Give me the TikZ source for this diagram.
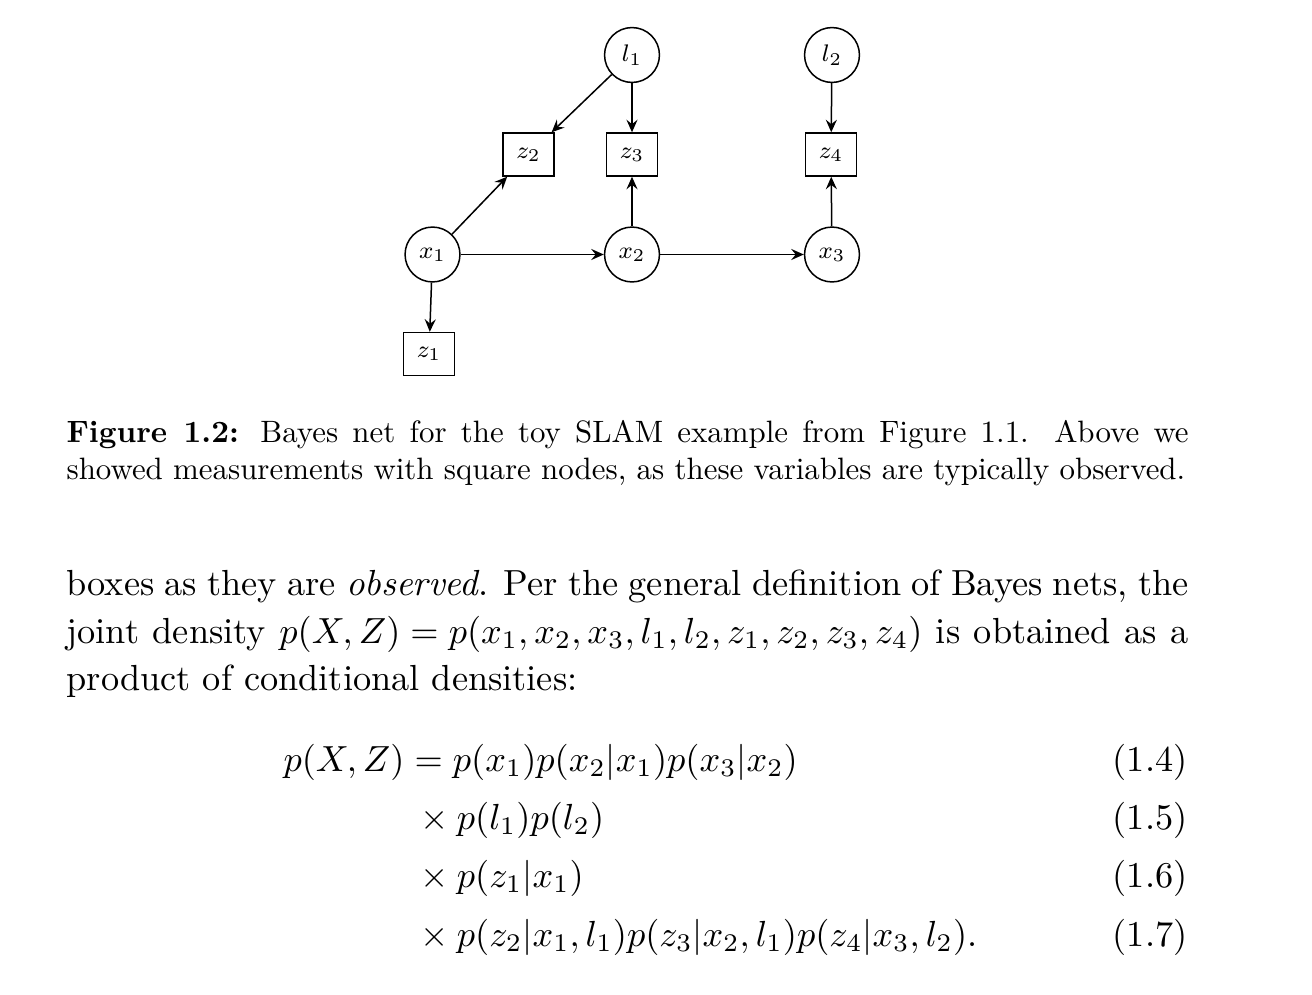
\documentclass[tikz,border=0pt]{standalone}
\usepackage{amsmath, tikz, xcolor, graphicx}
\usetikzlibrary{arrows.meta}
\newcommand{\jline}[3]{\scalebox{#1}{\fontsize{10}{12}\selectfont\makebox[#2][s]{#3}}}
\newcommand{\pline}[2]{\scalebox{#1}{\fontsize{10}{12}\selectfont #2}}

\begin{document}
\begin{tikzpicture}[x=0.3333pt, y=-0.3333pt,
  var/.style = {circle, draw, line width=0.5pt, minimum size=18.3pt, inner sep=0pt, font=\fontsize{8}{9}\selectfont},
  meas/.style = {rectangle, draw, line width=0.5pt, minimum width=17pt, minimum height=14.3pt, inner sep=0pt, font=\fontsize{8}{9}\selectfont},
  edge/.style = {line width=0.5pt, -{Stealth[length=4.2pt, width=3.7pt, inset=1.5pt]}},
  body/.style = {anchor=base west, inner sep=0pt},
  eqno/.style = {anchor=base east, inner sep=0pt}]
\useasboundingbox (0,0) rectangle (1312,994);
\node[var] (l1) at (632,55) {$l_1$};
\node[var] (l2) at (832,55) {$l_2$};
\node[meas] (z2) at (528.5,154.5) {$z_2$};
\node[meas] (z3) at (632,154.5) {$z_3$};
\node[meas] (z4) at (831,154.5) {$z_4$};
\node[var] (x1) at (432.5,254.5) {$x_1$};
\node[var] (x2) at (632,254.5) {$x_2$};
\node[var] (x3) at (832,254.5) {$x_3$};
\node[meas] (z1) at (429,354) {$z_1$};
\draw[edge] (l1) -- (z2);
\draw[edge] (l1) -- (z3);
\draw[edge] (l2) -- (z4);
\draw[edge] (x1) -- (z2);
\draw[edge] (x2) -- (z3);
\draw[edge] (x3) -- (z4);
\draw[edge] (x1) -- (x2);
\draw[edge] (x2) -- (x3);
\draw[edge] (x1) -- (z1);
\node[body] (cap1) at (66,442.5) {\jline{1.03}{363.1pt}{\textbf{Figure 1.2:} Bayes net for the toy SLAM example from Figure 1.1. Above we}};
\node[body] (cap2) at (66,479) {\pline{1.03}{showed measurements with square nodes, as these variables are typically observed.}};
\node[body] (txt1) at (66,595.5) {\jline{1.21}{309.1pt}{boxes as they are \emph{observed}. Per the general definition of Bayes nets, the}};
\node[body] (txt2) at (66,643.5) {\jline{1.21}{309.1pt}{joint density \mbox{$p(X,Z) = p(x_1,x_2,x_3,l_1,l_2,z_1,z_2,z_3,z_4)$} is obtained as a}};
\node[body] (txt3) at (66,690.5) {\pline{1.21}{product of conditional densities:}};
\node[body] (eq1) at (283,771) {\pline{1.21}{$p(X,Z) = p(x_1)p(x_2|x_1)p(x_3|x_2)$}};
\node[body] (eq2) at (412,829) {\pline{1.21}{${}\times p(l_1)p(l_2)$}};
\node[body] (eq3) at (412,887) {\pline{1.21}{${}\times p(z_1|x_1)$}};
\node[body] (eq4) at (412,946) {\pline{1.21}{${}\times p(z_2|x_1,l_1)p(z_3|x_2,l_1)p(z_4|x_3,l_2).$}};
\node[eqno] (n1) at (1188,771) {\pline{1.21}{(1.4)}};
\node[eqno] (n2) at (1188,829) {\pline{1.21}{(1.5)}};
\node[eqno] (n3) at (1188,887) {\pline{1.21}{(1.6)}};
\node[eqno] (n4) at (1188,946) {\pline{1.21}{(1.7)}};
\end{tikzpicture}
\end{document}
